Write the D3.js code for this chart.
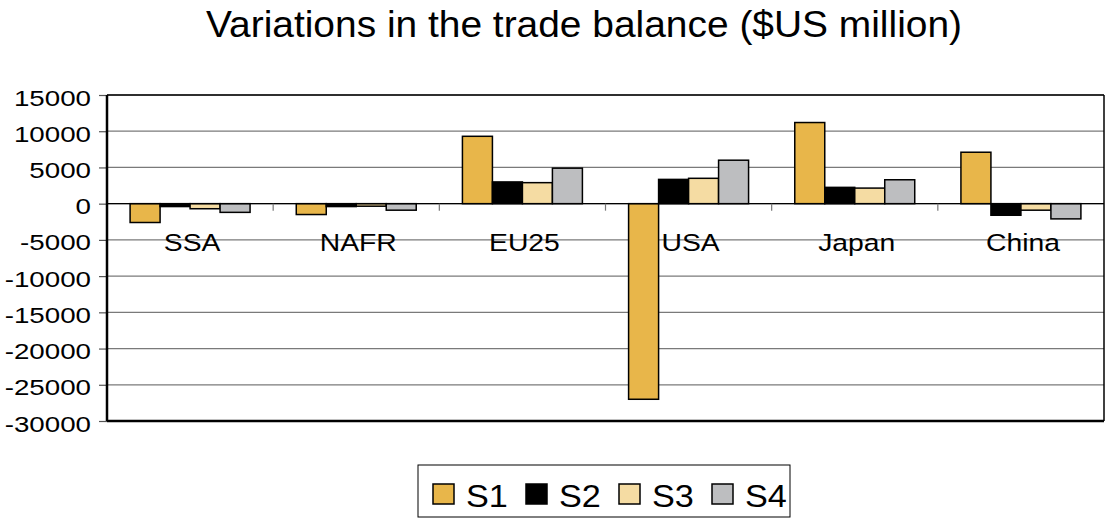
<!DOCTYPE html>
<html><head><meta charset="utf-8">
<script src="https://cdn.jsdelivr.net/npm/d3@7"></script>
<style>
html,body{margin:0;padding:0;background:#fff;}
svg{display:block;font-family:"Liberation Sans",Arial,sans-serif;}
</style></head>
<body><svg id="c" width="1107" height="518"></svg>
<script>
const categories = ["SSA","NAFR","EU25","USA","Japan","China"];
const seriesNames = ["S1","S2","S3","S4"];
const S1 = [-2600, -1500, 9300, -27000, 11200, 7100];
const S2 = [-400, -400, 3000, 3350, 2250, -1600];
const S3 = [-700, -350, 2900, 3500, 2150, -900];
const S4 = [-1200, -900, 4900, 6000, 3300, -2100];
const yTicks = [15000,10000,5000,0,-5000,-10000,-15000,-20000,-25000,-30000];
const colors = ["#E8B64A","#000000","#F5DCA3","#BDBEC0"];
const title = "Variations in the trade balance ($US million)";

const seriesVals = [S1,S2,S3,S4];
const svg = d3.select("#c");
const L=107, R=1104, T=95, B=421;

const x0 = d3.scaleBand().domain(categories).range([L,R]).paddingInner(0).paddingOuter(0);
const x1 = d3.scaleBand().domain(seriesNames).range([0,x0.bandwidth()]).paddingInner(0).paddingOuter(0.77);
const y = d3.scaleLinear().domain([-30000,15000]).range([B,T]);

// title
svg.append("text").attr("x",584).attr("y",37).attr("text-anchor","middle")
  .attr("font-size",37).attr("fill","#000")
  .attr("textLength",756).attr("lengthAdjust","spacingAndGlyphs").text(title);

// gridlines
svg.append("g").selectAll("line").data(yTicks).join("line")
  .attr("x1",L).attr("x2",R).attr("y1",d=>y(d)).attr("y2",d=>y(d))
  .attr("stroke","#7a7a7a").attr("stroke-width",1.2);

// y axis
const yAxis = d3.axisLeft(y).tickValues(yTicks).tickSize(8).tickFormat(d=>String(d));
const ga = svg.append("g").attr("transform",`translate(${L},0)`).call(yAxis);
ga.select(".domain").remove();
ga.selectAll(".tick line").attr("stroke","#555").attr("stroke-width",1.2);
ga.selectAll(".tick text").attr("font-size",22).attr("fill","#000")
  .attr("font-family","Liberation Sans, Arial, sans-serif")
  .attr("x",0).attr("dy",0)
  .attr("transform","translate(-16,10) scale(1.26,1)");

// category labels
svg.append("g").selectAll("text").data(categories).join("text")
  .attr("text-anchor","middle").attr("font-size",24).attr("fill","#000")
  .attr("transform",d=>`translate(${x0(d)+x0.bandwidth()/2+2},${y(0)+47}) scale(1.18,1)`)
  .text(d=>d);

// bars
const groups = svg.append("g").selectAll("g").data(categories).join("g")
  .attr("transform",d=>`translate(${x0(d)},0)`);
groups.selectAll("rect").data((c,i)=>seriesNames.map((s,j)=>({s,j,v:seriesVals[j][i]}))).join("rect")
  .attr("x",d=>x1(d.s)).attr("width",x1.bandwidth())
  .attr("y",d=>y(Math.max(0,d.v))).attr("height",d=>Math.abs(y(d.v)-y(0)))
  .attr("fill",d=>colors[d.j]).attr("stroke","#000").attr("stroke-width",1.5);

// zero line
svg.append("line").attr("x1",L).attr("x2",R).attr("y1",y(0)).attr("y2",y(0))
  .attr("stroke","#000").attr("stroke-width",1.2);
// category ticks on zero line
svg.append("g").selectAll("line").data(categories.slice(1)).join("line")
  .attr("x1",d=>x0(d)).attr("x2",d=>x0(d)).attr("y1",y(0)).attr("y2",y(0)+7)
  .attr("stroke","#777").attr("stroke-width",1.2);

// frame
svg.append("line").attr("x1",L).attr("x2",R).attr("y1",T).attr("y2",T).attr("stroke","#000").attr("stroke-width",1.5);
svg.append("line").attr("x1",R).attr("x2",R).attr("y1",T).attr("y2",B).attr("stroke","#000").attr("stroke-width",1.5);
svg.append("line").attr("x1",L).attr("x2",L).attr("y1",T).attr("y2",B).attr("stroke","#000").attr("stroke-width",2.5);
svg.append("line").attr("x1",L).attr("x2",R).attr("y1",B).attr("y2",B).attr("stroke","#000").attr("stroke-width",2.5);

// legend
const lg = svg.append("g");
lg.append("rect").attr("x",418).attr("y",465).attr("width",372).attr("height",52)
  .attr("fill","#fff").attr("stroke","#000").attr("stroke-width",1);
const lx = d3.scaleBand().domain(seriesNames).range([433,805]);
const items = lg.selectAll("g.it").data(seriesNames).join("g").attr("class","it")
  .attr("transform",d=>`translate(${lx(d)},0)`);
items.append("rect").attr("x",0).attr("y",484).attr("width",21).attr("height",20)
  .attr("fill",(d,i)=>colors[i]).attr("stroke","#000").attr("stroke-width",1.5);
items.append("text").attr("transform","translate(33,507) scale(1.07,1)")
  .attr("font-size",32).attr("fill","#000").text(d=>d);
</script></body></html>
